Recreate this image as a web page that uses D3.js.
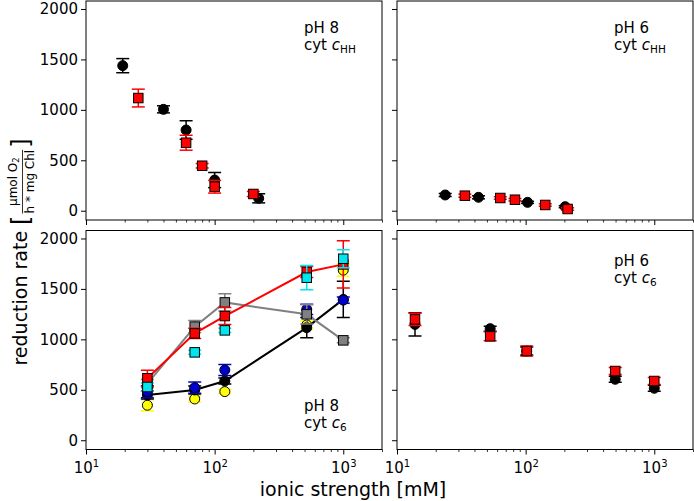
<!DOCTYPE html>
<html>
<head>
<meta charset="utf-8">
<script src="https://cdn.jsdelivr.net/npm/d3@7"></script>
<style>
  html, body { margin: 0; padding: 0; background: #fff; }
  svg { display: block; font-family: "DejaVu Sans", sans-serif; }
</style>
</head>
<body>
<svg id="chart" width="694" height="501"></svg>
<script>
// ---------- DATA ----------
const yTicks = [0, 500, 1000, 1500, 2000];
const xMajor = [10, 100, 1000];
const xMajorExp = ["1", "2", "3"];

// top-left: pH 8, cyt c_HH
const tlBlackX = [19.3, 40, 60, 100, 220];
const tlBlackY = [1438, 1005, 800, 304, 123];
const tlBlackE = [70, 35, 92, 75, 45];
const tlRedX = [25.5, 60, 80, 100, 200];
const tlRedY = [1117, 674, 446, 238, 166];
const tlRedE = [88, 74, 22, 63, 25];

// top-right: pH 6, cyt c_HH
const trBlackX = [23.7, 43, 103.5, 203];
const trBlackY = [156, 133, 83, 40];
const trBlackE = [15, 15, 10, 10];
const trRedX = [33.7, 63.5, 82.6, 142, 212];
const trRedY = [149, 126, 109, 57, 17];
const trRedE = [15, 12, 12, 12, 12];

// bottom-left: pH 8, cyt c6
const blX = [30, 70, 120, 520, 1000];
const blRedY = [614, 1059, 1231, 1667, 1743];
const blRedE = [80, 50, 85, 55, 235];
const blCyanY = [528, 871, 1089, 1611, 1799];
const blCyanE = [40, 20, 20, 120, 90];
const blGrayY = [561, 1126, 1366, 1248, 990];
const blGrayE = [40, 60, 85, 95, 25];
const blBlueY = [480, 521, 696, 1297, 1389];
const blBlueE = [60, 55, 55, 50, 30];
const blBlackY = [449, 498, 587, 1116, 1396];
const blBlackE = [40, 40, 30, 100, 180];
const blYellowY = [347, 409, 482, 1142, 1686];
const blYellowE = [55, 30, 20, 40, 60];

// bottom-right: pH 6, cyt c6
const brX = [13.8, 53, 102, 497, 1000];
const brBlackY = [1148, 1106, 884, 604, 515];
const brBlackE = [115, 25, 40, 30, 30];
const brRedY = [1198, 1030, 884, 686, 587];
const brRedE = [60, 45, 50, 35, 35];

// ---------- LAYOUT ----------
const svg = d3.select("#chart");
const colL = [86, 382], colR = [397, 693];
const rowT = [220, 1], rowB = [449.5, 230.5];
const yDom = [-92, 2079];

function makePanel(xr, yr, showXLabels, showYLabels) {
  const x = d3.scaleLog().domain([10, 2000]).range(xr);
  const y = d3.scaleLinear().domain(yDom).range(yr);
  const g = svg.append("g");
  const ya = g.append("g").attr("transform", `translate(${xr[0]},0)`)
    .call(d3.axisLeft(y).tickValues(yTicks).tickSize(5).tickPadding(3)
      .tickFormat(showYLabels ? d3.format("d") : ""));
  ya.select(".domain").remove();
  ya.selectAll("text").attr("font-size", 15).attr("font-family", "DejaVu Sans").attr("fill", "#000");
  ya.selectAll("line").attr("stroke", "#000");
  const minor = [];
  [10, 100, 1000].forEach(d => { for (let k = 2; k <= 9; k++) if (d * k <= 2000) minor.push(d * k); });
  const xm = g.append("g").attr("transform", `translate(0,${yr[0]})`)
    .call(d3.axisBottom(x).tickValues(minor).tickSize(2.5).tickFormat(""));
  xm.select(".domain").remove();
  xm.selectAll("line").attr("stroke", "#000").attr("stroke-width", 0.8);
  const xa = g.append("g").attr("transform", `translate(0,${yr[0]})`)
    .call(d3.axisBottom(x).tickValues(xMajor).tickSize(5).tickPadding(4).tickFormat(""));
  xa.select(".domain").remove();
  xa.selectAll("line").attr("stroke", "#000");
  if (showXLabels) {
    xa.selectAll(".tick").each(function(d, i) {
      const t = d3.select(this).append("text").attr("y", 23).attr("fill", "#000")
        .attr("font-size", 15).attr("font-family", "DejaVu Sans").attr("text-anchor", "middle");
      t.append("tspan").text("10");
      t.append("tspan").attr("font-size", 10).attr("dy", -6).text(xMajorExp[i]);
    });
  }
  g.append("rect").attr("x", xr[0]).attr("y", yr[1])
    .attr("width", xr[1] - xr[0]).attr("height", yr[0] - yr[1])
    .attr("fill", "none").attr("stroke", "#000").attr("stroke-width", 1);
  const clipId = "clip" + Math.round(xr[0]) + Math.round(yr[1]);
  svg.append("clipPath").attr("id", clipId).append("rect")
    .attr("x", xr[0]).attr("y", yr[1]).attr("width", xr[1] - xr[0]).attr("height", yr[0] - yr[1]);
  const plot = svg.append("g").attr("clip-path", `url(#${clipId})`);
  return { x, y, g, plot };
}

function errbars(p, xs, ys, es, color) {
  const gg = p.plot.append("g").attr("stroke", color).attr("stroke-width", 1.5);
  xs.forEach((xv, i) => {
    const cx = p.x(xv), y1 = p.y(ys[i] - es[i]), y2 = p.y(ys[i] + es[i]);
    gg.append("line").attr("x1", cx).attr("x2", cx).attr("y1", y1).attr("y2", y2);
    gg.append("line").attr("x1", cx - 6.5).attr("x2", cx + 6.5).attr("y1", y1).attr("y2", y1);
    gg.append("line").attr("x1", cx - 6.5).attr("x2", cx + 6.5).attr("y1", y2).attr("y2", y2);
  });
}
function line(p, xs, ys, color) {
  const l = d3.line().x((d, i) => p.x(xs[i])).y(d => p.y(d));
  p.plot.append("path").attr("d", l(ys)).attr("fill", "none")
    .attr("stroke", color).attr("stroke-width", 2);
}
function circles(p, xs, ys, fill, edge) {
  p.plot.append("g").selectAll("circle").data(ys).join("circle")
    .attr("cx", (d, i) => p.x(xs[i])).attr("cy", d => p.y(d)).attr("r", 5)
    .attr("fill", fill).attr("stroke", edge).attr("stroke-width", 1);
}
function squares(p, xs, ys, fill) {
  const s = 9.5;
  p.plot.append("g").selectAll("rect").data(ys).join("rect")
    .attr("x", (d, i) => p.x(xs[i]) - s / 2).attr("y", d => p.y(d) - s / 2)
    .attr("width", s).attr("height", s)
    .attr("fill", fill).attr("stroke", "#000").attr("stroke-width", 1);
}
function series(p, xs, ys, es, color, kind, edge, withLine) {
  if (withLine) line(p, xs, ys, color);
  errbars(p, xs, ys, es, color);
  if (kind === "c") circles(p, xs, ys, color, edge || color);
  else squares(p, xs, ys, color);
}
function label(xp, yp, l1, sub) {
  const t = svg.append("text").attr("font-size", 15).attr("fill", "#000");
  t.append("tspan").attr("x", xp).attr("y", yp).text(l1);
  const t2 = svg.append("text").attr("font-size", 15).attr("fill", "#000")
    .attr("x", xp).attr("y", yp + 17);
  t2.append("tspan").text("cyt ");
  t2.append("tspan").attr("font-style", "italic").text("c");
  t2.append("tspan").attr("font-size", 10.5).attr("dy", 3).text(sub);
}

// ---------- PANELS ----------
const TL = makePanel(colL, rowT, false, true);
series(TL, tlBlackX, tlBlackY, tlBlackE, "#000", "c");
series(TL, tlRedX, tlRedY, tlRedE, "#ff0000", "s");
label(304, 33, "pH 8", "HH");

const TR = makePanel(colR, rowT, false, false);
series(TR, trBlackX, trBlackY, trBlackE, "#000", "c");
series(TR, trRedX, trRedY, trRedE, "#ff0000", "s");
label(614, 33, "pH 6", "HH");

const BL = makePanel(colL, rowB, true, true);
series(BL, blX, blYellowY, blYellowE, "#ffff00", "c", "#000");
series(BL, blX, blBlackY, blBlackE, "#000", "c", "#000", true);
series(BL, blX, blBlueY, blBlueE, "#0000cc", "c", "#000");
series(BL, blX, blGrayY, blGrayE, "#808080", "s", null, true);
series(BL, blX, blRedY, blRedE, "#ff0000", "s", null, true);
series(BL, blX, blCyanY, blCyanE, "#00e5ee", "s");
label(304, 411, "pH 8", "6");

const BR = makePanel(colR, rowB, true, false);
series(BR, brX, brBlackY, brBlackE, "#000", "c");
series(BR, brX, brRedY, brRedE, "#ff0000", "s");
label(614, 266, "pH 6", "6");

// ---------- AXIS TITLES ----------
svg.append("text").attr("x", 353).attr("y", 496).attr("text-anchor", "middle")
  .attr("font-size", 19).attr("fill", "#000").text("ionic strength [mM]");

const yl = svg.append("g").attr("transform", "translate(27,252) rotate(-90)");
const main = yl.append("text").attr("font-size", 19).attr("fill", "#000").attr("x", 0).attr("y", 0)
  .text("reduction rate");
const w0 = main.node().getComputedTextLength();
const lb = yl.append("text").attr("font-size", 24).attr("fill", "#000").attr("y", 2).text("[");
const lbX = w0 + 6;
lb.attr("x", lbX);
const lbW = lb.node().getComputedTextLength();
const num = yl.append("text").attr("font-size", 12).attr("fill", "#000").attr("text-anchor", "middle").attr("y", -10);
num.append("tspan").text("μmol O");
num.append("tspan").attr("font-size", 8.5).attr("dy", 2).text("2");
const den = yl.append("text").attr("font-size", 12).attr("fill", "#000").attr("text-anchor", "middle").attr("y", 7)
  .text("h * mg Chl");
const fw = Math.max(num.node().getComputedTextLength(), den.node().getComputedTextLength());
const fx = lbX + lbW + 2 + fw / 2;
num.attr("x", fx); den.attr("x", fx);
yl.append("line").attr("x1", fx - fw / 2).attr("x2", fx + fw / 2).attr("y1", -4.5).attr("y2", -4.5)
  .attr("stroke", "#000").attr("stroke-width", 0.8);
const rb = yl.append("text").attr("font-size", 24).attr("fill", "#000").attr("y", 2).attr("x", fx + fw / 2 + 2).text("]");
const total = fx + fw / 2 + 2 + rb.node().getComputedTextLength();
yl.selectAll("text, line").attr("transform", `translate(${-total / 2},0)`);
</script>
</body>
</html>
